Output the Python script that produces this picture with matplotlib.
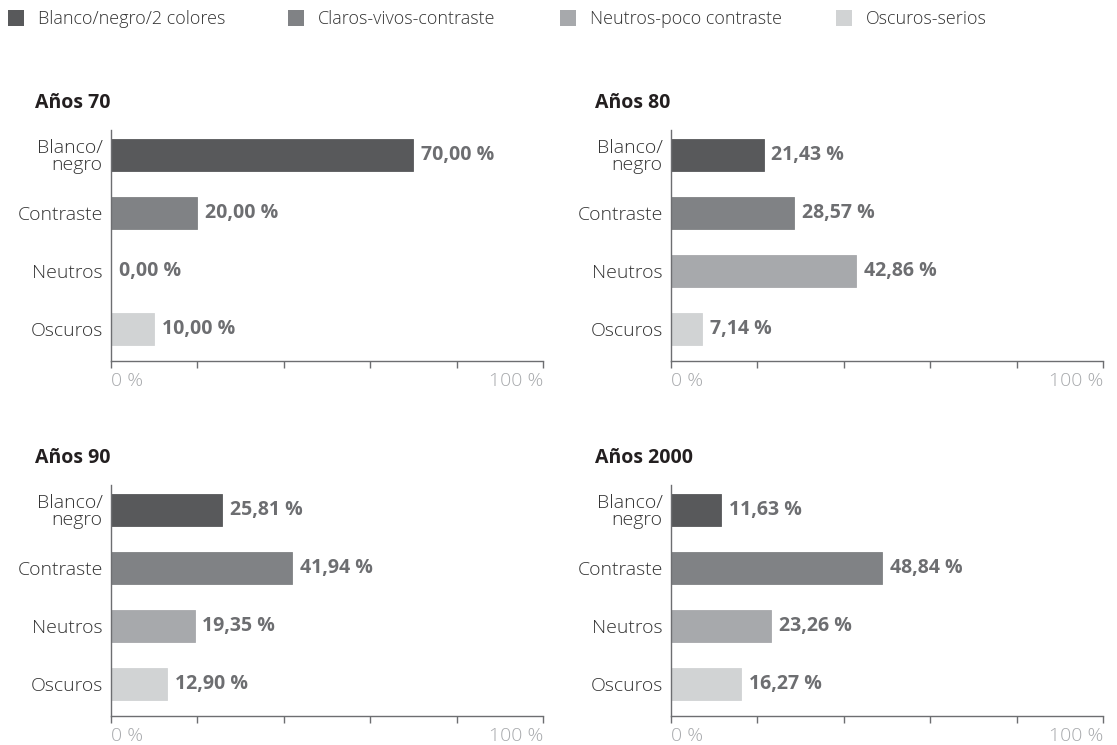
import matplotlib.pyplot as plt
from matplotlib.patches import Rectangle

plt.rcParams['font.family'] = ['Open Sans', 'DejaVu Sans']

categories = ['Blanco/\nnegro', 'Contraste', 'Neutros', 'Oscuros']
legend_labels = ['Blanco/negro/2 colores', 'Claros-vivos-contraste',
                 'Neutros-poco contraste', 'Oscuros-serios']
decades = ['Años 70', 'Años 80', 'Años 90', 'Años 2000']
values = [
    [70.00, 20.00, 0.00, 10.00],
    [21.43, 28.57, 42.86, 7.14],
    [25.81, 41.94, 19.35, 12.90],
    [11.63, 48.84, 23.26, 16.27],
]
colors = ['#58595b', '#808285', '#a7a9ac', '#d1d3d4']

fig = plt.figure(figsize=(11.17, 7.45), dpi=100)

W, H = 1117, 745
lefts = [111, 671]
bottoms = [361, 716]
ax_w, ax_h = 432, 231

for i, (title, vals) in enumerate(zip(decades, values)):
    col, row = i % 2, i // 2
    ax = fig.add_axes([lefts[col] / W, 1 - bottoms[row] / H, ax_w / W, ax_h / H])
    ypos = range(len(categories))
    # thin edge so a 0 % bar still shows as a hairline
    ax.barh(ypos, vals, height=0.54, color=colors, edgecolor=colors, linewidth=0.6)
    for y, v in zip(ypos, vals):
        ax.text(v + 1.8, y, f'{v:.2f} %'.replace('.', ','), va='center', ha='left',
                fontsize=14, fontweight='bold', color='#6d6e71')
    ax.set_xlim(0, 100)
    ax.set_ylim(3.55, -0.43)
    ax.set_yticks(list(ypos))
    ax.set_yticklabels(categories, fontsize=14, color='#333333', linespacing=0.9,
                       fontweight='light', multialignment='right')
    ax.tick_params(axis='y', length=0, pad=6)
    ax.set_xticks([0, 20, 40, 60, 80, 100])
    ax.set_xticklabels(['', '', '', '', '', ''])
    ax.tick_params(axis='x', length=5, width=1, color='#6d6e71', direction='out')
    ax.text(0, -0.085, '0 %', transform=ax.transAxes, ha='left', va='center',
            fontsize=14, fontweight='light', color='#a7a9ac')
    ax.text(1, -0.085, '100 %', transform=ax.transAxes, ha='right', va='center',
            fontsize=14, fontweight='light', color='#a7a9ac')
    for s in ['top', 'right']:
        ax.spines[s].set_visible(False)
    for s in ['left', 'bottom']:
        ax.spines[s].set_color('#6d6e71')
        ax.spines[s].set_linewidth(1)
    fig.text((lefts[col] - 76) / W, 1 - (bottoms[row] - 258) / H, title,
             fontsize=14, fontweight='bold', color='#231f20', va='center', ha='left')

# legend row along the top
leg_x = [8, 288, 560, 836]
for x, c, lab in zip(leg_x, colors, legend_labels):
    fig.add_artist(Rectangle((x / W, 1 - 26 / H), 16 / W, 16 / H,
                             transform=fig.transFigure, facecolor=c, edgecolor='none'))
    fig.text((x + 30) / W, 1 - 18.5 / H, lab, fontsize=13, fontweight='light',
             color='#333333', va='center', ha='left')

fig.savefig('out.png', dpi=100)
